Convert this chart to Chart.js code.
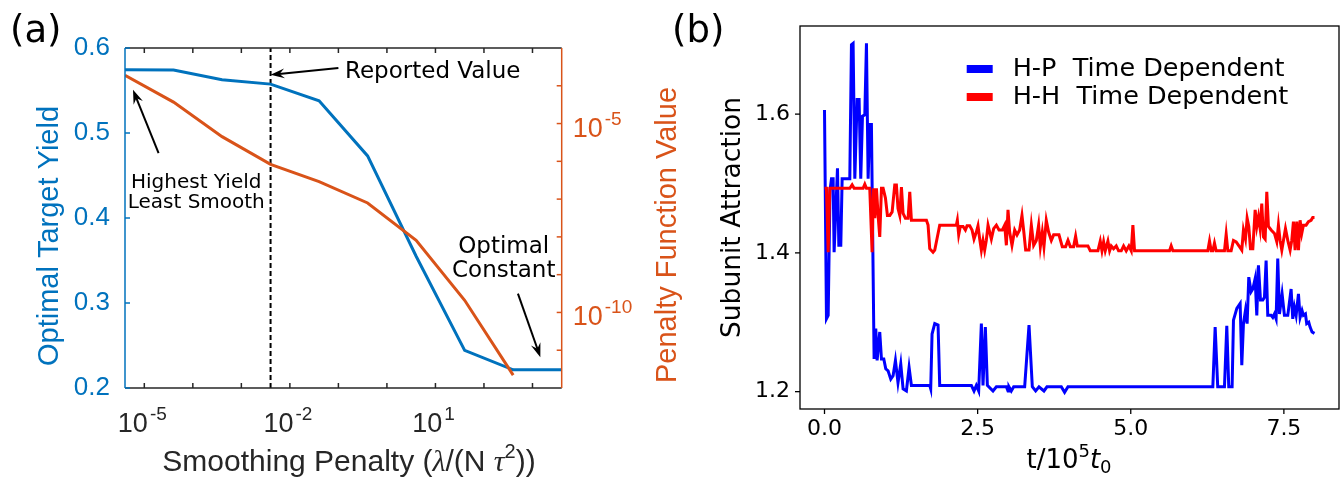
<!DOCTYPE html>
<html lang="en">
<head>
<meta charset="UTF-8" />
<title>Smoothing penalty and subunit attraction</title>
<style>
  body {
    margin: 0;
    background: #fff;
  }
  #wrap {
    position: relative;
    width: 1342px;
    height: 481px;
  }
  canvas {
    position: absolute;
    top: 0;
  }
  #chartA { left: 0; }
  #chartB { left: 660px; }
</style>
</head>
<body>

<div id="wrap">
  <canvas id="chartA" width="690" height="481"></canvas>
  <canvas id="chartB" width="682" height="481"></canvas>
</div>

<script src="https://cdn.jsdelivr.net/npm/chart.js"></script>
<script>
  // ---- panel (a): optimal yield vs smoothing penalty ----
  const lambdaVals  = [4e-6, 4e-5, 4e-4, 4e-3, 4e-2, 0.4, 4, 40, 400, 4000];
  const yieldVals   = [0.5745, 0.574, 0.5626, 0.5575, 0.5378, 0.473, 0.355, 0.2442, 0.2214, 0.2214];
  const penaltyVals = [1.9e-4, 3.7e-5, 4.5e-6, 8.3e-7, 2.9e-7, 7.9e-8, 8.1e-9, 2.1e-10, 2.2e-12, null];
  const reportedLambda = 4e-3;
  const yieldMin = 0.2, yieldMax = 0.6;
  const yieldTicks = [0.2, 0.3, 0.4, 0.5, 0.6];
  const lambdaTickExps = [-5, -4, -3, -2, -1, 0, 1, 2, 3];
  const lambdaLabelExps = [-5, -2, 1];
  const penaltyTickExps = [-11, -10, -9, -8, -7, -6, -5, -4];
  const penaltyLabelExps = [-10, -5];

  // ---- panel (b): subunit attraction over time ----
  const hpT = [
    0, 0.032, 0.06, 0.09, 0.114, 0.141, 0.157, 0.212, 0.234, 0.266,
    0.288, 0.413, 0.44, 0.467, 0.495, 0.533, 0.565, 0.592, 0.62, 0.658,
    0.685, 0.712, 0.739, 0.766, 0.81, 0.837, 0.859, 0.902, 0.93, 0.968,
    1.0, 1.038, 1.082, 1.12, 1.158, 1.2, 1.245, 1.283, 1.337, 1.381,
    1.419, 1.718, 1.734, 1.756, 1.8, 1.854, 1.881, 2.398, 2.441, 2.479,
    2.517, 2.561, 2.588, 2.626, 2.659, 2.751, 2.806, 2.969, 2.996, 3.012,
    3.05, 3.089, 3.268, 3.339, 3.393, 3.447, 3.502, 3.583, 3.632, 3.866,
    3.92, 3.975, 6.34, 6.378, 6.42, 6.53, 6.568, 6.6, 6.655, 6.677,
    6.732, 6.786, 6.813, 6.84, 6.873, 6.9, 6.927, 6.965, 6.993, 7.031,
    7.058, 7.085, 7.118, 7.156, 7.183, 7.21, 7.237, 7.292, 7.319, 7.346,
    7.373, 7.4, 7.428, 7.471, 7.509, 7.564, 7.618, 7.645, 7.672, 7.7,
    7.738, 7.765, 7.797, 7.819, 7.852, 7.873, 7.906, 7.928, 7.96, 8.0
  ];
  const hpV = [
    1.606, 1.305, 1.31, 1.49, 1.507, 1.507, 1.401, 1.522, 1.411, 1.411,
    1.507, 1.507, 1.70, 1.702, 1.507, 1.621, 1.621, 1.507, 1.597, 1.599,
    1.702, 1.507, 1.585, 1.585, 1.247, 1.291, 1.245, 1.286, 1.247, 1.247,
    1.233, 1.23, 1.218, 1.223, 1.245, 1.213, 1.24, 1.204, 1.201, 1.235,
    1.209, 1.209, 1.204, 1.283, 1.298, 1.296, 1.209, 1.209, 1.201, 1.209,
    1.201, 1.298, 1.209, 1.293, 1.209, 1.201, 1.207, 1.207, 1.201, 1.207,
    1.201, 1.207, 1.207, 1.296, 1.207, 1.201, 1.207, 1.201, 1.207, 1.207,
    1.199, 1.207, 1.207, 1.293, 1.207, 1.207, 1.295, 1.207, 1.207, 1.303,
    1.32, 1.327, 1.238, 1.298, 1.317, 1.298, 1.365, 1.344, 1.348, 1.363,
    1.31, 1.382, 1.332, 1.332, 1.336, 1.389, 1.31, 1.31, 1.307, 1.312,
    1.305, 1.392, 1.312, 1.341, 1.31, 1.31, 1.348, 1.305, 1.322, 1.31,
    1.341, 1.307, 1.317, 1.31, 1.312, 1.298, 1.30, 1.293, 1.286, 1.284
  ];
  const hhT = [
    0, 0.032, 0.06, 0.087, 0.413, 0.451, 0.484, 0.63, 0.658, 0.685,
    0.739, 0.777, 0.799, 0.821, 0.848, 0.875, 0.902, 0.93, 0.957, 0.995,
    1.027, 1.066, 1.104, 1.147, 1.174, 1.2, 1.229, 1.256, 1.283, 1.321,
    1.365, 1.392, 1.419, 1.664, 1.691, 1.718, 1.772, 1.8, 1.827, 1.881,
    2.153, 2.169, 2.191, 2.218, 2.262, 2.3, 2.327, 2.371, 2.409, 2.441,
    2.479, 2.506, 2.534, 2.561, 2.588, 2.615, 2.642, 2.67, 2.697, 2.724,
    2.762, 2.806, 2.849, 2.904, 2.942, 2.969, 2.996, 3.023, 3.061, 3.105,
    3.143, 3.186, 3.224, 3.257, 3.284, 3.339, 3.377, 3.415, 3.458, 3.496,
    3.524, 3.556, 3.583, 3.621, 3.659, 3.703, 3.741, 3.828, 3.882, 3.937,
    3.975, 4.013, 4.067, 4.1, 4.127, 4.301, 4.339, 4.464, 4.502, 4.53,
    4.557, 4.584, 4.627, 4.655, 4.682, 4.72, 4.763, 4.801, 4.845, 4.883,
    4.926, 4.97, 5.008, 5.035, 5.062, 5.633, 5.66, 5.688, 6.258, 6.286,
    6.313, 6.34, 6.367, 6.394, 6.53, 6.558, 6.585, 6.639, 6.677, 6.721,
    6.775, 6.813, 6.84, 6.873, 6.9, 6.927, 6.955, 6.993, 7.031, 7.058,
    7.085, 7.112, 7.139, 7.167, 7.194, 7.221, 7.248, 7.292, 7.346, 7.384,
    7.411, 7.438, 7.466, 7.493, 7.526, 7.564, 7.602, 7.629, 7.656, 7.683,
    7.71, 7.738, 7.765, 7.792, 7.819, 7.863, 7.901, 7.944, 7.971, 8.0
  ];
  const hhV = [
    1.493, 1.493, 1.401, 1.493, 1.493, 1.498, 1.493, 1.493, 1.499, 1.493,
    1.493, 1.401, 1.493, 1.45, 1.493, 1.454, 1.423, 1.493, 1.493, 1.479,
    1.454, 1.454, 1.459, 1.498, 1.498, 1.464, 1.454, 1.495, 1.457, 1.45,
    1.45, 1.488, 1.447, 1.447, 1.44, 1.406, 1.401, 1.404, 1.416, 1.44,
    1.44, 1.447, 1.426, 1.438, 1.438, 1.433, 1.439, 1.439, 1.433, 1.42,
    1.43, 1.439, 1.42, 1.404, 1.418, 1.404, 1.418, 1.44, 1.43, 1.42,
    1.435, 1.44, 1.433, 1.433, 1.44, 1.411, 1.462, 1.43, 1.411, 1.433,
    1.426, 1.433, 1.454, 1.428, 1.404, 1.404, 1.44, 1.411, 1.418, 1.44,
    1.409, 1.43, 1.409, 1.447, 1.43, 1.418, 1.426, 1.426, 1.409, 1.409,
    1.418, 1.409, 1.409, 1.424, 1.41, 1.41, 1.403, 1.403, 1.417, 1.403,
    1.416, 1.403, 1.417, 1.403, 1.41, 1.406, 1.41, 1.403, 1.403, 1.41,
    1.403, 1.41, 1.403, 1.44, 1.403, 1.403, 1.41, 1.403, 1.403, 1.417,
    1.403, 1.403, 1.414, 1.403, 1.403, 1.427, 1.403, 1.403, 1.418, 1.416,
    1.409, 1.404, 1.433, 1.42, 1.45, 1.438, 1.406, 1.406, 1.462, 1.438,
    1.452, 1.435, 1.471, 1.423, 1.42, 1.488, 1.438, 1.433, 1.428, 1.416,
    1.44, 1.418, 1.404, 1.418, 1.435, 1.418, 1.404, 1.418, 1.445, 1.404,
    1.445, 1.404, 1.447, 1.428, 1.44, 1.44, 1.445, 1.447, 1.451, 1.451
  ];
  const tMin = -0.4, tMax = 8.4;
  const attrMin = 1.175, attrMax = 1.727;
  const tTicks = [0, 2.5, 5, 7.5];
  const attrTicks = [1.2, 1.4, 1.6];

  const BLUE = '#0072BD';
  const ORANGE = '#D95319';
  const DARK = '#262626';
  const SANS = '"Liberation Sans", Arial, sans-serif';
  const DJV = '"DejaVu Sans", sans-serif';

  function line(ctx, x1, y1, x2, y2, color, w) {
    ctx.strokeStyle = color;
    ctx.lineWidth = w || 1.5;
    ctx.beginPath();
    ctx.moveTo(x1, y1);
    ctx.lineTo(x2, y2);
    ctx.stroke();
  }

  function arrow(ctx, x1, y1, x2, y2) {
    const ang = Math.atan2(y2 - y1, x2 - x1);
    line(ctx, x1, y1, x2 - Math.cos(ang) * 6, y2 - Math.sin(ang) * 6, '#000', 2);
    ctx.save();
    ctx.translate(x2, y2);
    ctx.rotate(ang);
    ctx.fillStyle = '#000';
    ctx.beginPath();
    ctx.moveTo(0, 0);
    ctx.lineTo(-14, -5);
    ctx.lineTo(-9, 0);
    ctx.lineTo(-14, 5);
    ctx.closePath();
    ctx.fill();
    ctx.restore();
  }

  // "10" with a raised exponent, like the MATLAB tick labels
  function powLabel(ctx, exp, x, baseline, align, color) {
    ctx.fillStyle = color;
    ctx.textAlign = 'left';
    ctx.textBaseline = 'alphabetic';
    ctx.font = '27px ' + SANS;
    const wb = ctx.measureText('10').width;
    ctx.font = '19px ' + SANS;
    const es = String(exp);
    const we = ctx.measureText(es).width;
    const x0 = align === 'center' ? x - (wb + 2 + we) / 2 : x;
    ctx.font = '27px ' + SANS;
    ctx.fillText('10', x0, baseline);
    ctx.font = '19px ' + SANS;
    ctx.fillText(es, x0 + wb + 2, baseline - 12);
  }

  // draw pieces of text one after another, centred on cx
  function segText(ctx, segs, cx, baseline, color) {
    ctx.fillStyle = color;
    ctx.textAlign = 'left';
    ctx.textBaseline = 'alphabetic';
    let total = 0;
    const widths = segs.map(s => {
      ctx.font = s[1];
      const w = ctx.measureText(s[0]).width;
      total += w;
      return w;
    });
    let x = cx - total / 2;
    segs.forEach((s, i) => {
      ctx.font = s[1];
      ctx.fillText(s[0], x, baseline + (s[2] || 0));
      x += widths[i];
    });
  }

  function rotText(ctx, text, cx, cy, font, color) {
    ctx.save();
    ctx.translate(cx, cy);
    ctx.rotate(-Math.PI / 2);
    ctx.font = font;
    ctx.fillStyle = color;
    ctx.textAlign = 'center';
    ctx.textBaseline = 'middle';
    ctx.fillText(text, 0, 0);
    ctx.restore();
  }

  // annotation texts and arrows of panel (a), in data units
  const notesA = [
    { lines: ['Reported Value'], x: 10 ** -0.864, y: [0.5646], size: 23, align: 'left' },
    { lines: ['Highest Yield', 'Least Smooth'], x: 10 ** -3.93, y: [0.4349, 0.4113], size: 20, align: 'center' },
    { lines: ['Optimal', 'Constant'], x: 10 ** 2.407, y: [0.3583, 0.3307], size: 23, align: 'center' }
  ];
  const arrowsA = [
    { from: [10 ** -1.0, 0.5764], to: [reportedLambda, 0.5685] },
    { from: [10 ** -4.706, 0.4762], to: [10 ** -5.233, 0.5508] },
    { from: [10 ** 2.70, 0.3111], to: [10 ** 3.162, 0.2363] }
  ];

  const panelA = {
    id: 'panelA',
    afterDraw(chart) {
      const { ctx, chartArea: a, scales } = chart;
      const sx = scales.x, sy = scales.y, sr = scales.yR;
      ctx.save();

      // box and inward ticks
      line(ctx, a.left, a.top, a.right, a.top, DARK);
      line(ctx, a.left, a.bottom, a.right, a.bottom, DARK);
      line(ctx, a.left, a.top, a.left, a.bottom, BLUE);
      line(ctx, a.right, a.top, a.right, a.bottom, ORANGE);
      lambdaTickExps.forEach(e => {
        const px = sx.getPixelForValue(10 ** e);
        line(ctx, px, a.bottom, px, a.bottom - 5, DARK);
        line(ctx, px, a.top, px, a.top + 5, DARK);
      });
      yieldTicks.forEach(v => {
        const py = sy.getPixelForValue(v);
        line(ctx, a.left, py, a.left + 5, py, BLUE);
      });
      penaltyTickExps.forEach(e => {
        const py = sr.getPixelForValue(10 ** e);
        line(ctx, a.right, py, a.right - 5, py, ORANGE);
      });

      // power-of-ten labels
      lambdaLabelExps.forEach(e => {
        powLabel(ctx, e, sx.getPixelForValue(10 ** e) - 2, a.bottom + 44, 'center', DARK);
      });
      penaltyLabelExps.forEach(e => {
        powLabel(ctx, e, a.right + 11, sr.getPixelForValue(10 ** e) + 13, 'left', ORANGE);
      });

      // axis titles
      rotText(ctx, 'Optimal Target Yield', 50, 236, '29px ' + SANS, BLUE);
      rotText(ctx, 'Penalty Function Value', 668, 235, '29px ' + SANS, ORANGE);
      segText(ctx, [
        ['Smoothing Penalty (', '30px ' + SANS],
        ['\u03bb', 'italic 30px "Liberation Serif", serif'],
        ['/(N ', '30px ' + SANS],
        ['\u03c4', 'italic 30px "Liberation Serif", serif'],
        ['2', '20px ' + SANS, -13],
        ['))', '30px ' + SANS]
      ], 349, 471, DARK);

      // annotations
      ctx.fillStyle = '#000';
      ctx.textBaseline = 'alphabetic';
      notesA.forEach(n => {
        ctx.font = n.size + 'px ' + DJV;
        ctx.textAlign = n.align;
        n.lines.forEach((t, i) => ctx.fillText(t, sx.getPixelForValue(n.x), sy.getPixelForValue(n.y[i])));
      });
      arrowsA.forEach(r => {
        arrow(ctx,
          sx.getPixelForValue(r.from[0]), sy.getPixelForValue(r.from[1]),
          sx.getPixelForValue(r.to[0]), sy.getPixelForValue(r.to[1]));
      });

      ctx.font = '37px ' + DJV;
      ctx.textAlign = 'left';
      ctx.fillStyle = '#000';
      ctx.fillText('(a)', 10, 42);
      ctx.restore();
    }
  };

  new Chart(document.getElementById('chartA'), {
    type: 'line',
    data: {
      datasets: [
        {
          label: 'Penalty function value',
          data: lambdaVals.map((x, i) => ({ x, y: penaltyVals[i] })),
          yAxisID: 'yR',
          borderColor: ORANGE,
          borderWidth: 3,
          pointRadius: 0,
          order: 0
        },
        {
          label: 'Optimal target yield',
          data: lambdaVals.map((x, i) => ({ x, y: yieldVals[i] })),
          yAxisID: 'y',
          borderColor: BLUE,
          borderWidth: 3,
          pointRadius: 0,
          order: 1
        },
        {
          label: 'Reported value',
          data: [{ x: reportedLambda, y: yieldMin }, { x: reportedLambda, y: yieldMax }],
          yAxisID: 'y',
          borderColor: '#000',
          borderWidth: 2,
          borderDash: [5, 3],
          pointRadius: 0,
          order: 2
        }
      ]
    },
    options: {
      responsive: false,
      animation: false,
      events: [],
      layout: { padding: { top: 48, left: 0, right: 0, bottom: 0 } },
      plugins: { legend: { display: false }, tooltip: { enabled: false } },
      scales: {
        x: {
          type: 'logarithmic',
          min: lambdaVals[0],
          max: lambdaVals[lambdaVals.length - 1],
          afterBuildTicks: s => { s.ticks = lambdaTickExps.map(e => ({ value: 10 ** e })); },
          ticks: { display: false },
          grid: { display: false, drawTicks: false },
          border: { display: false },
          afterFit: s => { s.height = 93; }
        },
        y: {
          type: 'linear',
          position: 'left',
          min: yieldMin,
          max: yieldMax,
          afterBuildTicks: s => { s.ticks = yieldTicks.map(v => ({ value: v })); },
          ticks: {
            color: BLUE,
            font: { family: SANS, size: 26 },
            padding: 15,
            callback: v => v.toFixed(1)
          },
          grid: { display: false, drawTicks: false },
          border: { display: false },
          afterFit: s => { s.width = 125; }
        },
        yR: {
          type: 'logarithmic',
          position: 'right',
          min: 1e-12,
          max: 1e-3,
          afterBuildTicks: s => { s.ticks = penaltyTickExps.map(e => ({ value: 10 ** e })); },
          ticks: { display: false },
          grid: { display: false, drawTicks: false },
          border: { display: false },
          afterFit: s => { s.width = 128.3; }
        }
      }
    },
    plugins: [panelA]
  });

  const panelB = {
    id: 'panelB',
    afterDraw(chart) {
      const { ctx, chartArea: a, scales } = chart;
      const sx = scales.x, sy = scales.y;
      ctx.save();
      ctx.strokeStyle = '#000';
      ctx.lineWidth = 1.3;
      ctx.strokeRect(a.left, a.top, a.right - a.left, a.bottom - a.top);
      tTicks.forEach(t => {
        const px = sx.getPixelForValue(t);
        line(ctx, px, a.bottom, px, a.bottom + 5, '#000', 1.3);
      });
      attrTicks.forEach(v => {
        const py = sy.getPixelForValue(v);
        line(ctx, a.left - 5, py, a.left, py, '#000', 1.3);
      });

      // legend inside the axes
      chart.data.datasets.forEach((ds, i) => {
        const y = a.top + 43 + i * 28;
        line(ctx, a.left + 166.7, y, a.left + 192.7, y, ds.borderColor, 8);
        ctx.font = '25.5px ' + DJV;
        ctx.fillStyle = '#000';
        ctx.textAlign = 'left';
        ctx.textBaseline = 'middle';
        ctx.fillText(ds.label, a.left + 212.7, y);
      });

      rotText(ctx, 'Subunit Attraction', 73, 217.5, '26.5px ' + DJV, '#000');
      segText(ctx, [
        ['t/10', '26px ' + DJV],
        ['5', '18px ' + DJV, -11],
        ['t', 'italic 26px ' + DJV],
        ['0', '18px ' + DJV, 5]
      ], 409, 468, '#000');

      ctx.font = '37px ' + DJV;
      ctx.textAlign = 'left';
      ctx.textBaseline = 'alphabetic';
      ctx.fillStyle = '#000';
      ctx.fillText('(b)', 12, 42);
      ctx.restore();
    }
  };

  new Chart(document.getElementById('chartB'), {
    type: 'line',
    data: {
      datasets: [
        {
          label: 'H-P  Time Dependent',
          data: hpT.map((t, i) => ({ x: t, y: hpV[i] })),
          borderColor: '#0000FF',
          borderWidth: 3,
          pointRadius: 0,
          order: 1
        },
        {
          label: 'H-H  Time Dependent',
          data: hhT.map((t, i) => ({ x: t, y: hhV[i] })),
          borderColor: '#FF0000',
          borderWidth: 3,
          pointRadius: 0,
          order: 0
        }
      ]
    },
    options: {
      responsive: false,
      animation: false,
      events: [],
      layout: { padding: { top: 26, right: 3, left: 0, bottom: 0 } },
      plugins: { legend: { display: false }, tooltip: { enabled: false } },
      scales: {
        x: {
          type: 'linear',
          min: tMin,
          max: tMax,
          afterBuildTicks: s => { s.ticks = tTicks.map(v => ({ value: v })); },
          ticks: {
            color: '#000',
            font: { family: DJV, size: 22 },
            padding: 7,
            maxRotation: 0,
            autoSkip: false,
            callback: v => v.toFixed(1)
          },
          grid: { display: false, drawTicks: false },
          border: { display: false },
          afterFit: s => { s.height = 72; }
        },
        y: {
          type: 'linear',
          min: attrMin,
          max: attrMax,
          afterBuildTicks: s => { s.ticks = attrTicks.map(v => ({ value: v })); },
          ticks: {
            color: '#000',
            font: { family: DJV, size: 22 },
            padding: 10,
            callback: v => v.toFixed(1)
          },
          grid: { display: false, drawTicks: false },
          border: { display: false },
          afterFit: s => { s.width = 140; }
        }
      }
    },
    plugins: [panelB]
  });
</script>

</body>
</html>
